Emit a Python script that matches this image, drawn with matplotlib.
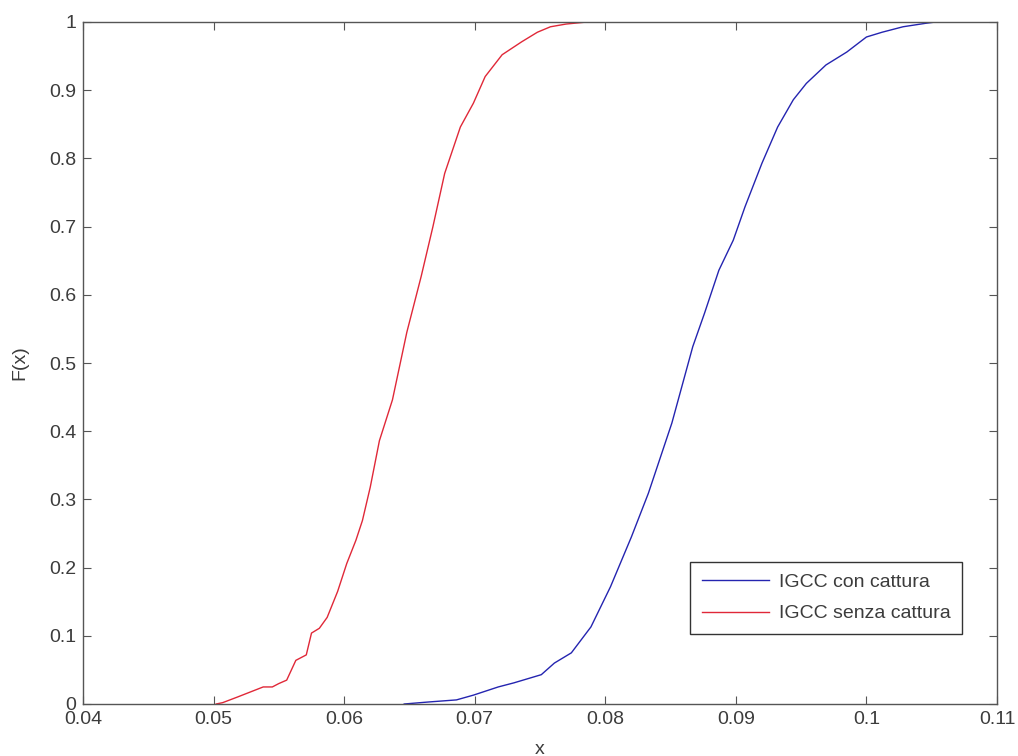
import matplotlib
matplotlib.use("Agg")
import matplotlib.pyplot as plt
from matplotlib.ticker import FuncFormatter

x_senza = [0.0502, 0.0507, 0.0518, 0.0526, 0.0534, 0.0538, 0.0545, 0.0550, 0.0556,
           0.0563, 0.0571, 0.0575, 0.0581, 0.0587, 0.0595, 0.0602, 0.0609, 0.0614,
           0.0620, 0.0627, 0.0637, 0.0648, 0.0659, 0.0668, 0.0677, 0.0689, 0.0699,
           0.0708, 0.0721, 0.0736, 0.0748, 0.0758, 0.0770, 0.0786, 0.0790]
y_senza = [0.0, 0.002, 0.010, 0.016, 0.022, 0.025, 0.025, 0.030, 0.035,
           0.064, 0.072, 0.104, 0.111, 0.127, 0.165, 0.206, 0.240, 0.269,
           0.318, 0.386, 0.446, 0.545, 0.627, 0.700, 0.778, 0.846, 0.881,
           0.920, 0.952, 0.971, 0.985, 0.993, 0.997, 1.0, 1.0]

x_con = [0.0646, 0.0665, 0.0686, 0.0699, 0.0718, 0.0730, 0.0751, 0.0761, 0.0774,
         0.0789, 0.0804, 0.0820, 0.0833, 0.0851, 0.0860, 0.0867, 0.0876, 0.0887,
         0.0898, 0.0907, 0.0920, 0.0932, 0.0944, 0.0954, 0.0969, 0.0985, 0.1000,
         0.1012, 0.1028, 0.1045, 0.1053]
y_con = [0.0, 0.003, 0.006, 0.013, 0.025, 0.031, 0.043, 0.060, 0.075,
         0.113, 0.172, 0.245, 0.309, 0.412, 0.475, 0.524, 0.573, 0.636,
         0.680, 0.729, 0.793, 0.846, 0.886, 0.910, 0.937, 0.956, 0.978,
         0.985, 0.993, 0.998, 1.0]

x_ticks = [0.04, 0.05, 0.06, 0.07, 0.08, 0.09, 0.10, 0.11]
y_ticks = [0, 0.1, 0.2, 0.3, 0.4, 0.5, 0.6, 0.7, 0.8, 0.9, 1.0]
labels = ["IGCC con cattura", "IGCC senza cattura"]

plt.rcParams['font.family'] = ['Liberation Sans', 'DejaVu Sans']
txt = '#3c3c3c'
axc = '#555555'

fig = plt.figure(figsize=(10.18, 7.56), dpi=100)
ax = fig.add_axes([83/1018, 52/756, 914/1018, 682/756])

ax.plot(x_con, y_con, color='#2424b0', lw=1.0, label=labels[0])
ax.plot(x_senza, y_senza, color='#e02838', lw=1.0, label=labels[1])

ax.set_xlim(0.04, 0.11)
ax.set_ylim(0, 1)
ax.set_xticks(x_ticks)
ax.set_yticks(y_ticks)
fmt = FuncFormatter(lambda v, p: f"{v:g}")
ax.xaxis.set_major_formatter(fmt)
ax.yaxis.set_major_formatter(fmt)

ax.tick_params(direction='in', length=6, width=0.8, color=axc, labelcolor=txt,
               labelsize=14, top=True, right=True, pad=5)
for s in ax.spines.values():
    s.set_color(axc)
    s.set_linewidth(1.0)

ax.set_xlabel('x', fontsize=14, color=txt)
ax.set_ylabel('F(x)', fontsize=14, color=txt)
ax.xaxis.set_label_coords(0.5, -0.054)
ax.yaxis.set_label_coords(-0.06, 0.5)

leg = ax.legend(loc='lower right', bbox_to_anchor=(0.9617, 0.1026), borderaxespad=0,
                fontsize=14, fancybox=False, edgecolor='#333333', framealpha=1,
                handlelength=3.45, handletextpad=0.5, borderpad=0.6, labelspacing=0.7)
leg.get_frame().set_linewidth(1.0)
for t in leg.get_texts():
    t.set_color(txt)

fig.savefig('out.png', dpi=100)
